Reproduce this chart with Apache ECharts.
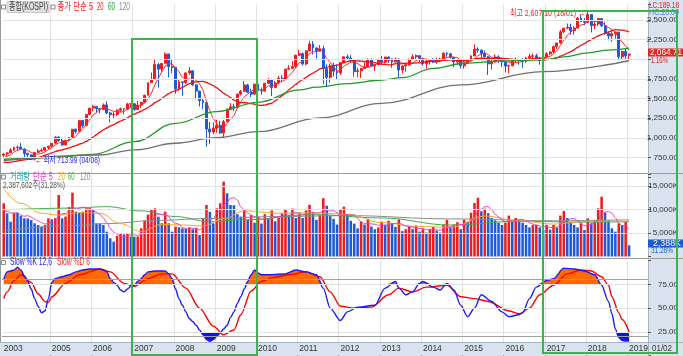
<!DOCTYPE html>
<html><head><meta charset="utf-8">
<script src="https://cdn.jsdelivr.net/npm/echarts/dist/echarts.min.js"></script>
<style>html,body{margin:0;padding:0;background:#fff;overflow:hidden}#c{width:683px;height:356px}</style>
</head><body><div id="c"></div><script>
// ---------- DATA ----------
const startYear = 2003, startMonth = 11, nData = 183, nBlank = 5;
const yearLabels = ['2003','2005','2006','2007','2008','2009','2010','2011','2012','2013','2014','2015','2016','2017','2018','2019'];
const opens = [780,797,
812,847,880,885,860,805,786,735,818,836,846,878,
896,934,1012,966,912,971,1010,1112,1085,1222,1160,1298,
1380,1400,1372,1360,1420,1318,1296,1298,1353,1372,1366,1433,
1435,1361,1417,1453,1543,1702,1745,1933,1874,1947,2065,1906,
1897,1625,1712,1704,1826,1852,1675,1595,1474,1448,1113,1076,
1124,1162,1063,1206,1370,1396,1390,1557,1592,1673,1581,1556,
1683,1602,1595,1693,1742,1641,1698,1759,1743,1873,1883,1905,
2051,2070,1939,2107,2192,2143,2101,2133,1880,1770,1909,1848,
1826,1956,2030,2014,1981,1843,1854,1882,1905,1996,1912,1933,
1997,1962,2027,2005,1964,2001,1863,1914,1926,1997,2030,2045,
2011,1941,1980,1986,1962,1995,2002,2076,2068,2020,1964,1981,
1916,1949,1986,2041,2127,2115,2074,2030,1941,1963,2029,1992,
1961,1912,1917,1996,1994,1983,1970,2016,2035,2044,2008,1983,
2026,2068,2092,2160,2205,2347,2392,2403,2363,2394,2523,2476,
2467,2566,2427,2446,2515,2423,2326,2295,2323,2343,2030,2097,
2050];
const highs = [812,822,
870,890,905,936,870,812,790,820,860,869,885,900,
935,1022,1024,990,975,1010,1111,1120,1221,1225,1300,1380,
1420,1405,1380,1439,1464,1330,1330,1365,1385,1380,1445,1440,
1440,1470,1460,1550,1700,1830,2005,1955,1950,2085,2070,2000,
1900,1740,1714,1830,1901,1860,1680,1600,1510,1452,1202,1200,
1230,1217,1230,1370,1440,1436,1560,1609,1723,1687,1626,1690,
1723,1640,1700,1760,1752,1725,1785,1800,1880,1925,1975,2055,
2120,2085,2110,2232,2228,2150,2180,2172,1935,1945,1955,1935,
1960,2030,2057,2050,1995,1890,1890,1960,2010,2010,1940,2005,
2040,2030,2035,2010,2020,2010,1920,1935,2010,2060,2060,2050,
2015,1980,1990,2015,2020,2020,2085,2090,2080,2030,1990,1990,
1960,1990,2050,2190,2150,2120,2110,2040,1990,2060,2050,2000,
1962,1930,2000,2020,2000,2010,2030,2070,2070,2070,2030,2045,
2090,2100,2170,2210,2370,2400,2453,2450,2420,2530,2560,2520,
2607,2570,2500,2520,2520,2470,2350,2340,2350,2350,2110,2135,
2070];
const lows = [760,768,
810,835,838,860,733,760,726,714,810,820,834,857,
880,930,955,904,904,955,1000,1055,1080,1130,1150,1290,
1340,1320,1310,1355,1300,1200,1240,1280,1330,1302,1360,1385,
1345,1355,1380,1450,1540,1700,1745,1638,1830,1945,1770,1820,
1560,1600,1535,1680,1800,1660,1490,1400,1365,892,920,1050,
1065,1055,992,1200,1350,1340,1375,1540,1590,1570,1520,1555,
1600,1552,1590,1690,1532,1635,1680,1720,1740,1860,1880,1890,
2040,1920,1923,2100,2060,2010,2100,1684,1644,1700,1780,1750,
1800,1950,1995,1960,1780,1770,1760,1880,1890,1910,1850,1920,
1930,1945,1950,1890,1960,1770,1820,1840,1920,1990,1990,1955,
1920,1880,1930,1950,1940,1960,1990,2030,2010,1900,1930,1880,
1880,1940,1975,2040,2080,2020,2020,1800,1870,1960,1950,1900,
1830,1820,1910,1960,1930,1890,1950,2000,1980,2000,1930,1980,
2010,2050,2070,2130,2200,2330,2380,2310,2310,2390,2470,2430,
2460,2340,2380,2420,2410,2310,2240,2220,2260,1986,1990,2000,
1993];
const closes = [796,811,
848,880,883,862,804,786,735,817,835,845,878,896,
933,1011,966,911,970,1008,1111,1083,1221,1158,1297,1379,
1400,1372,1360,1420,1318,1295,1298,1353,1371,1365,1432,1434,
1360,1417,1453,1542,1701,1744,1933,1873,1946,2065,1906,1897,
1625,1712,1704,1826,1852,1675,1595,1474,1448,1113,1076,1124,
1162,1063,1206,1369,1396,1390,1557,1592,1673,1581,1556,1683,
1602,1595,1693,1742,1641,1698,1759,1743,1873,1883,1905,2051,
2070,1939,2107,2192,2143,2101,2133,1880,1770,1909,1848,1826,
1956,2030,2014,1981,1843,1854,1882,1905,1996,1912,1933,1997,
1962,2027,2005,1964,2001,1863,1914,1926,1997,2030,2045,2011,
1941,1980,1986,1962,1995,2002,2076,2068,2020,1964,1981,1916,
1949,1986,2041,2127,2115,2074,2030,1941,1963,2029,1992,1961,
1912,1917,1996,1994,1983,1970,2016,2035,2044,2008,1983,2026,
2068,2092,2160,2205,2347,2392,2403,2363,2394,2523,2476,2467,
2566,2427,2446,2515,2423,2326,2295,2323,2343,2030,2097,2041,
2064.71];
const ma5Head = [748,768,786,823];
const ma20Head = [692,690,693,700,708,715,723,729,729,739,751,764,781,796,811,828,841,849,862];
// [month index, value]
const ma60 = [[0,730],[14,750],[26,793],[38,953],[50,1186],[62,1334],[74,1453],[86,1610],[91,1645],[100,1690],[110,1736],[116,1765],[125,1884],[134,1948],[145,1977],[157,1990],[163,2030],[170,2080],[176,2115],[182,2140]];
const ma120 = [[0,712],[28,784],[38,848],[50,933],[62,1004],[74,1080],[92,1255],[110,1440],[133,1673],[157,1841],[182,1980]];
// volume in thousand shares (K)
const volumes = [11320,9190,7410,9330,9300,8620,8120,8100,7770,7060,6700,6350,6700,8120,
7900,8150,13090,8120,8500,10500,13580,9540,9330,9540,10250,10300,
10040,7060,7000,6700,5280,3870,3160,4360,4790,4700,4940,4220,
4200,4250,6000,7620,8900,9900,10250,8470,7060,9540,7060,5280,
6350,6210,6000,5900,6100,5800,6000,4580,8120,10960,9500,7060,
10250,11320,15920,13450,10960,10900,9000,
8500,10000,7800,8800,7200,8400,7000,9000,8000,9800,7500,8200,9200,10000,8800,10200,8200,
9000,8200,9800,11000,9200,7800,8800,12400,10800,8600,8000,6800,
10000,10600,9000,7600,7000,6000,7400,6800,8000,6400,5800,6200,
7400,6800,7600,7000,6300,7900,5400,5800,6400,5800,6600,5300,
5800,5100,5800,6300,5500,5100,6800,7800,6300,6800,7300,5800,
7800,7300,9300,11400,12500,9600,10200,9200,8200,7700,7200,6700,
7200,8700,7700,8200,7700,7200,6700,6200,6700,6700,6200,5700,
6700,5700,6700,6200,8700,9700,8200,7200,6700,6200,7060,5640,
8120,7060,7770,10250,12730,9320,7770,6000,5280,7060,6700,7410,2388];
const volMa5Head = [9900,9600,9300,9200];
const volMa20 = [[0,14500],[5,11300],[11,9200],[16,8800],[22,9300],[28,9200],[34,7000],[40,5300],[46,6800],[52,6700],[58,6500],[64,8000],[70,9700],[80,9200],[90,9300],[100,9000],[110,7200],[120,6400],[130,6200],[140,8600],[150,7600],[160,6900],[170,7500],[182,7500]];
const volMa60 = [[0,9900],[20,10300],[30,10600],[40,9700],[50,8500],[60,7400],[70,7800],[90,8900],[110,8200],[130,6700],[150,7500],[170,7300],[182,7400]];
const volMa120 = [[0,5500],[20,6600],[30,7000],[45,7700],[60,8100],[80,8500],[100,8700],[130,8000],[160,7600],[182,7800]];
// Slow stochastic, [month index, value]
const stochK = [[0,80],[1,88],[2,89],[3,90],[4,93],[5,90],[6,84],[7,78],[8,70],[9,60],[10,52],[11,45],[12,47],[13,60],[14,77],[15,81],[17,83],[19,85],[21,88],[23,90],[25,91],[28,91],[29,90],[30,88],[31,81],[32,77],[33,74],[34,69],[35,67],[36,70],[37,73],[38,74],[39,78],[40,81],[41,85],[42,88],[44,89],[47,89],[48,86],[49,81],[50,70],[51,60],[52,53],[53,46],[54,39],[55,36],[56,32],[57,27],[58,22],[59,17],[60,15],[61,17],[62,20],[63,24],[64,28],[65,32],[66,40],[67,46],[68,55],[69,62],[70,70],[71,78],[72,85],[73,90],[74,87],[75,85],[78,85],[82,86],[85,90],[88,88],[91,85],[93,71],[95,50],[98,37],[100,46],[103,51],[108,53],[111,71],[114,78],[115,71],[117,64],[119,67],[121,76],[122,78],[125,72],[127,69],[129,76],[131,69],[133,53],[135,41],[137,50],[139,64],[142,57],[145,46],[147,41],[150,43],[151,45],[153,60],[155,72],[158,79],[160,81],[163,92],[166,91],[169,89],[172,85],[174,74],[176,57],[177,44],[178,28],[179,19],[180,16],[181,15.5],[182,15.5]];
const stochD = [[0,60],[1,67],[3,79],[5,85],[8,77],[10,65],[12,57],[13,56],[14,62],[18,76],[22,85],[28,91],[31,88],[35,76],[38,73],[42,81],[46,86],[49,86],[53,71],[57,50],[61,31],[64,22],[67,27],[69,43],[72,68],[75,78],[78,82],[83,85],[88,88],[92,83],[95,67],[98,52],[102,50],[107,51],[112,64],[115,71],[119,67],[123,72],[129,74],[133,62],[137,60],[141,57],[147,47],[150,44],[153,50],[156,64],[160,74],[164,86],[168,90],[171,89],[174,83],[176,74],[177,62],[179,45],[180,38],[182,25]];

// ---------- BUILD ----------
const categories = [];
for (let k = 0; k < nData + nBlank; k++) {
  const m = startMonth - 1 + k;
  categories.push((startYear + Math.floor(m / 12)) + '/' + String(m % 12 + 1).padStart(2, '0'));
}
const isYearStart = (idx, val) => val.slice(5) === '01' && yearLabels.includes(val.slice(0, 4));
const candleData = opens.map((o, i) => [o, closes[i], lows[i], highs[i]]);
function movAvg(arr, n, head) {
  return arr.map((v, i) => {
    if (i < n - 1) return head[i];
    let s = 0; for (let j = i - n + 1; j <= i; j++) s += arr[j];
    return +(s / n).toFixed(2);
  });
}
const ma5 = movAvg(closes, 5, ma5Head);
const ma20 = movAvg(closes, 20, ma20Head);
const volMa5 = movAvg(volumes, 5, volMa5Head);
const RED = '#ee1c1c', BLUE = '#1c5ad8';
const volData = volumes.map((v, i) => ({ value: v, itemStyle: { color: (i > 0 && v < volumes[i - 1]) ? BLUE : RED } }));
const kHigh = stochK.map(([i, v]) => [i, Math.max(v, 75)]);
const kLow = stochK.map(([i, v]) => [i, Math.min(v, 25)]);

const FAM = '"Liberation Sans", "Noto Sans CJK KR", sans-serif';
const L = 2, R = 35;
const grids = [
  { left: L, right: R, top: 4, height: 173.4 },
  { left: L, right: R, top: 174, height: 82.5 },
  { left: L, right: R, top: 260.5, height: 95.2 },
  { left: L, right: R, top: 342, height: 13 }
];
const splitX = { show: true, interval: isYearStart, lineStyle: { color: '#e3e3e3', width: 1 } };
const xAxes = [0, 1, 2].map(g => ({
  type: 'category', gridIndex: g, data: categories, boundaryGap: true,
  axisLine: { show: false }, axisTick: { show: false }, axisLabel: { show: false }, splitLine: splitX
}));
xAxes.push({
  type: 'category', gridIndex: 3, data: categories, boundaryGap: true, position: 'top', z: 200,
  axisLine: { show: false },
  axisTick: { show: true, inside: true, length: 12, interval: isYearStart, lineStyle: { color: '#9aa6b4' } },
  axisLabel: { show: true, inside: true, margin: 2, align: 'left', verticalAlign: 'top', fontSize: 8.5,
    fontFamily: FAM, color: '#333',
    interval: (idx, val) => idx === 0 || isYearStart(idx, val),
    formatter: v => v.slice(0, 4) }
});
const fmt2 = v => v.toLocaleString('en-US', { minimumFractionDigits: 2, maximumFractionDigits: 2 });
const yLabelBase = { show: true, align: 'right', margin: 30, fontSize: 8, color: '#333', fontFamily: FAM };
const light = '#e3e3e3', none = 'rgba(0,0,0,0)';
const yAxes = [
  { type: 'value', gridIndex: 0, position: 'right', min: 500, max: 2700, interval: 250, z: 200,
    axisLine: { show: true, lineStyle: { color: '#a9b4c2' } },
    axisTick: { show: true, length: 3, lineStyle: { color: '#555' } },
    // the 2,000.00 label sits under the current-price marker in the reference
    axisLabel: Object.assign({}, yLabelBase, { formatter: v => (v >= 750 && v <= 2500 && v !== 2000) ? fmt2(v) : '' }),
    splitLine: { show: true, lineStyle: { color: [none, light, light, light, light, light, light, light, light, none] } } },
  { type: 'value', gridIndex: 1, position: 'right', min: 0, max: 17553, interval: 5000, z: 200,
    axisLine: { show: true, lineStyle: { color: '#a9b4c2' } },
    axisTick: { show: true, length: 3, lineStyle: { color: '#555' } },
    axisLabel: Object.assign({}, yLabelBase, { formatter: v => (v > 0 && v <= 15000) ? v.toLocaleString('en-US') + 'K' : '' }),
    splitLine: { show: true, lineStyle: { color: [none, light, light, light, none] } } },
  { type: 'value', gridIndex: 2, position: 'right', min: 0, max: 100, interval: 25, z: 200,
    axisLine: { show: true, lineStyle: { color: '#a9b4c2' } },
    axisTick: { show: true, length: 3, lineStyle: { color: '#555' } },
    axisLabel: Object.assign({}, yLabelBase, { formatter: v => (v > 0 && v < 100) ? v.toFixed(2) : '' }),
    splitLine: { show: true, lineStyle: { color: [none, light, light, light, none] } } },
  { type: 'value', gridIndex: 3, show: false }
];
const lineBase = { type: 'line', symbol: 'none', silent: true, smoothMonotone: 'x' };
const series = [
  { type: 'candlestick', xAxisIndex: 0, yAxisIndex: 0, data: candleData, barWidth: '70%', silent: true,
    itemStyle: { color: RED, color0: BLUE, borderColor: RED, borderColor0: BLUE, borderWidth: 1 } },
  Object.assign({}, lineBase, { xAxisIndex: 0, yAxisIndex: 0, data: ma5, lineStyle: { color: '#ff2a2a', width: 1 } }),
  Object.assign({}, lineBase, { xAxisIndex: 0, yAxisIndex: 0, data: ma20, smooth: 0.3, lineStyle: { color: '#f01010', width: 1.3 } }),
  Object.assign({}, lineBase, { xAxisIndex: 0, yAxisIndex: 0, data: ma60, smooth: 0.4, lineStyle: { color: '#1e9a28', width: 1.3 } }),
  Object.assign({}, lineBase, { xAxisIndex: 0, yAxisIndex: 0, data: ma120, smooth: 0.4, lineStyle: { color: '#707070', width: 1.3 } }),
  { type: 'bar', xAxisIndex: 1, yAxisIndex: 1, data: volData, barWidth: '74%', silent: true },
  Object.assign({}, lineBase, { xAxisIndex: 1, yAxisIndex: 1, data: volMa120, smooth: 0.4, lineStyle: { color: '#8c8c8c', width: 1 } }),
  Object.assign({}, lineBase, { xAxisIndex: 1, yAxisIndex: 1, data: volMa60, smooth: 0.4, lineStyle: { color: '#3fae4a', width: 1 } }),
  Object.assign({}, lineBase, { xAxisIndex: 1, yAxisIndex: 1, data: volMa20, smooth: 0.4, lineStyle: { color: '#f5a623', width: 1 } }),
  Object.assign({}, lineBase, { xAxisIndex: 1, yAxisIndex: 1, data: volMa5, smooth: 0.3, lineStyle: { color: '#e83ed0', width: 1 } }),
  Object.assign({}, lineBase, { xAxisIndex: 2, yAxisIndex: 2, data: kHigh, smooth: 0.3, lineStyle: { width: 0 },
    areaStyle: { origin: 75, color: '#ff6a00', opacity: 1 } }),
  Object.assign({}, lineBase, { xAxisIndex: 2, yAxisIndex: 2, data: kLow, smooth: 0.3, lineStyle: { width: 0 },
    areaStyle: { origin: 25, color: '#0a14f0', opacity: 1 } }),
  Object.assign({}, lineBase, { xAxisIndex: 2, yAxisIndex: 2, data: stochD, smooth: 0.3, lineStyle: { color: '#ff0000', width: 1.4 },
    markLine: { silent: true, symbol: 'none', label: { show: false }, lineStyle: { color: '#a0a0a0', type: 'solid', width: 1 },
      data: [{ yAxis: 80 }, { yAxis: 20 }] } }),
  Object.assign({}, lineBase, { xAxisIndex: 2, yAxisIndex: 2, data: stochK, smooth: 0.3, lineStyle: { color: '#1a1aff', width: 1.4 } })
];

// text helper: fits a text to the width it takes in the reference
const mctx = document.createElement('canvas').getContext('2d');
const fontOf = size => size + 'px ' + FAM;
function txt(x, y, s, color, w, size, extra) {
  size = size || 10;
  mctx.font = fontOf(size);
  const sx = w ? w / mctx.measureText(s).width : 1;
  return { type: 'text', x, y, z: 300, silent: true, scaleX: sx,
    style: Object.assign({ text: s, fill: color, font: fontOf(size), textVerticalAlign: 'middle' }, extra || {}) };
}
const icon = (x, y) => ({ type: 'rect', z: 300, silent: true, shape: { x, y, width: 4, height: 4 }, style: { fill: '#fff', stroke: '#888', lineWidth: 1 } });
const graphics = [
  { type: 'rect', z: 40, silent: true, shape: { x: 648, y: 0, width: 35, height: 356 }, style: { fill: '#d9e3ef' } },
  { type: 'rect', z: 40, silent: true, shape: { x: 0, y: 342.5, width: 683, height: 14 }, style: { fill: '#d9e3ef' } },
  { type: 'line', z: 41, silent: true, shape: { x1: 0, y1: 342.5, x2: 683, y2: 342.5 }, style: { stroke: '#a9b4c2', lineWidth: 1 } },
  { type: 'line', z: 41, silent: true, shape: { x1: 0, y1: 173.5, x2: 683, y2: 173.5 }, style: { stroke: '#9a9a9a', lineWidth: 1 } },
  { type: 'line', z: 41, silent: true, shape: { x1: 0, y1: 258.5, x2: 683, y2: 258.5 }, style: { stroke: '#9a9a9a', lineWidth: 1 } },
  { type: 'line', z: 41, silent: true, shape: { x1: 0.5, y1: 0, x2: 0.5, y2: 342 }, style: { stroke: '#9a9a9a', lineWidth: 1 } },
  // legends
  icon(1.5, 5), { type: 'rect', z: 299, silent: true, shape: { x: 7, y: 1.5, width: 42, height: 11 }, style: { fill: '#e2e2e2', stroke: '#c8c8c8' } },
  txt(9, 7.5, '종합(KOSPI)', '#444', 39),
  icon(51, 5), txt(57.5, 7.5, '종가 단순 5', RED, 35.5), txt(97, 7.5, '20', RED, 6.5), txt(108, 7.5, '60', '#1e9a28', 7), txt(119, 7.5, '120', '#888', 11),
  icon(1.5, 175), txt(10, 177, '거래량', '#2aa0a0', 20), txt(33, 177, '단순 5', '#e83ed0', 20), txt(58, 177, '20', '#f5a623', 7), txt(68, 177, '60', '#3fae4a', 6.5), txt(80, 177, '120', '#888', 10),
  txt(3, 185.5, '2,387,602주(31.28%)', '#555', 62, 9),
  icon(1.5, 260.5), txt(10, 262.5, 'Slow %K 12,6', '#1a1aff', 42), txt(57, 262.5, 'Slow %D 6', '#ff2020', 33),
  // annotations
  txt(35, 160.7, '← 최저 713.99 (04/08)', '#2020ff', 65, 9),
  txt(510, 13.5, '최고 2,607.10 (18/01) →', '#ff2020', 75, 9),
  // right strip info
  txt(649, 5.7, 'LC:189.18', '#e02020', 30, 9), txt(649, 12.5, 'HC:20.00', '#4a7adf', 30, 9),
  { type: 'rect', z: 299, silent: true, shape: { x: 648, y: 48.5, width: 35, height: 8 }, style: { fill: '#e8261e' } },
  txt(682, 52.5, '2,064.71', '#fff', 32, 8.5, { textAlign: 'right' }), txt(651, 60.7, '1.16%', '#e02020', 17, 8.5),
  { type: 'rect', z: 299, silent: true, shape: { x: 648, y: 239.5, width: 35, height: 8 }, style: { fill: '#1c5ad8' } },
  txt(681, 243.5, '2,388K', '#fff', 28, 8.5, { textAlign: 'right' }), txt(651, 251, '31.28%', '#1c5ad8', 22, 8.5),
  txt(652, 348.5, '01/02', '#333', 20, 8.5),
  // highlight boxes
  { type: 'rect', z: 310, silent: true, shape: { x: 132, y: 39, width: 125, height: 316 }, style: { fill: 'none', stroke: '#3cb44b', lineWidth: 2 } },
  { type: 'rect', z: 310, silent: true, shape: { x: 543, y: 11, width: 134, height: 342 }, style: { fill: 'none', stroke: '#3cb44b', lineWidth: 2 } }
];

const chart = echarts.init(document.getElementById('c'), null, { renderer: 'canvas' });
chart.setOption({
  animation: false, backgroundColor: '#fff',
  grid: grids, xAxis: xAxes, yAxis: yAxes, series, graphic: graphics
});
</script></body></html>
